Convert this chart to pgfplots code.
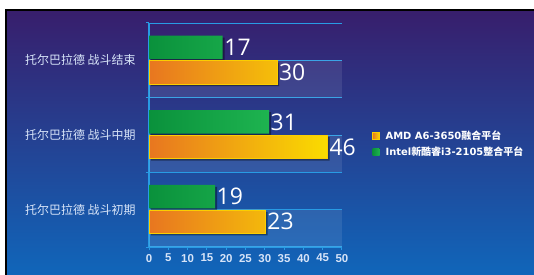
\documentclass[border=0pt]{standalone}
\usepackage{pgfplots}
\pgfplotsset{compat=1.18}
\usepackage{fontspec}
\setmainfont{Liberation Sans}
\newfontfamily\cjk{Noto Sans CJK SC}
\newfontfamily\dv{DejaVu Sans}
\newfontfamily\opensans{Open Sans}
\definecolor{bgtop}{RGB}{56,30,108}
\definecolor{bgmid}{RGB}{40,62,150}
\definecolor{bgbot}{RGB}{16,102,186}
\definecolor{gridc}{RGB}{40,155,228}
\definecolor{orL}{RGB}{232,118,32}
\definecolor{orR}{RGB}{250,220,0}
\definecolor{grL}{RGB}{10,145,60}
\definecolor{grR}{RGB}{30,180,80}
\definecolor{lbl}{RGB}{215,228,248}
\begin{document}
\begin{tikzpicture}
\useasboundingbox (0bp,0bp) rectangle (534bp,275bp);
\fill[white] (0bp,0bp) rectangle (534bp,275bp);
\shade[top color=bgtop, middle color=bgmid, bottom color=bgbot] (6bp,0bp) rectangle (534bp,265bp);
\draw[black, line width=1.5bp] (6bp,0bp) -- (6bp,265bp) -- (534bp,265bp);
\begin{axis}[
  at={(149bp,28bp)}, anchor=origin,
  scale only axis, width=193bp, height=224bp,
  xmin=0, xmax=50, ymin=0, ymax=3,
  clip=false,
  /pgf/number format/assume math mode=true,
  axis x line=bottom, axis y line=left,
  axis line style={gridc, line width=1.3bp, -},
  xtick={0,5,...,50},
  tick align=outside,
  major tick length=3bp,
  xtick style={gridc, line width=1bp},
  xticklabel style={font=\fontsize{11.5}{13}\selectfont\bfseries, text=lbl, yshift=-0.5bp},
  ytick={0.5,1.5,2.5},
  yticklabels={{托尔巴拉德 战斗初期},{托尔巴拉德 战斗中期},{托尔巴拉德 战斗结束}},
  yticklabel style={font=\cjk\fontsize{12}{14}\selectfont, text=lbl, xshift=-7bp},
  ytick style={draw=none},
  extra y ticks={0,1,2,3},
  extra y tick labels={},
  extra y tick style={ytick style={draw=gridc, line width=1bp}},
  ymajorgrids,
  grid style={gridc, line width=0.9bp},
  bar width=0.315,
  legend style={at={(1.14,0.461)}, anchor=west, draw=none, fill=none,
    text=white, font=\dv\bfseries\fontsize{10}{12}\selectfont, row sep=2bp},
  legend cell align=left,
  legend image code/.code={\path[draw=none, fill=none, shade=false] (0bp,-1bp) rectangle (11bp,1bp);\fill[#1] (0bp,-3.5bp) rectangle (7bp,3.5bp);},
]
\fill[white, opacity=0.09] (axis cs:0,0) rectangle (axis cs:50,0.5);
\fill[white, opacity=0.09] (axis cs:0,1) rectangle (axis cs:50,1.5);
\fill[white, opacity=0.09] (axis cs:0,2) rectangle (axis cs:50,2.5);
% shadows
\addplot[xbar, bar shift=-0.16, fill=black, opacity=0.4, draw=none, xshift=2bp, yshift=-2bp, forget plot]
  coordinates {(30.2,0.5) (46.3,1.5) (33.2,2.5)};
\addplot[xbar, bar shift=0.175, fill=black, opacity=0.4, draw=none, xshift=2bp, yshift=-2bp, forget plot]
  coordinates {(17.1,0.5) (31.1,1.5) (19.1,2.5)};
% AMD
\addplot[xbar, bar shift=-0.16, draw=orR!85!orange, line width=0.7bp, left color=orL, right color=orR,
  nodes near coords, point meta=explicit symbolic,
  nodes near coords style={shade=false, font=\opensans\fontsize{23}{23}\selectfont, text=white, anchor=west, inner sep=1.5bp, yshift=-12bp}]
  coordinates {(30.2,0.5)[23] (46.3,1.5)[46] (33.2,2.5)[30]};
\addlegendentry{AMD A6-3650{\cjk 融合平台}}
% Intel
\addplot[xbar, bar shift=0.175, draw=none, left color=grL, right color=grR,
  nodes near coords, point meta=explicit symbolic,
  nodes near coords style={shade=false, font=\opensans\fontsize{23}{23}\selectfont, text=white, anchor=west, inner sep=1.5bp, yshift=13bp}]
  coordinates {(17.1,0.5)[19] (31.1,1.5)[31] (19.1,2.5)[17]};
\addlegendentry{Intel{\cjk 新酷睿}i3-2105{\cjk 整合平台}}
\end{axis}
\end{tikzpicture}
\end{document}
